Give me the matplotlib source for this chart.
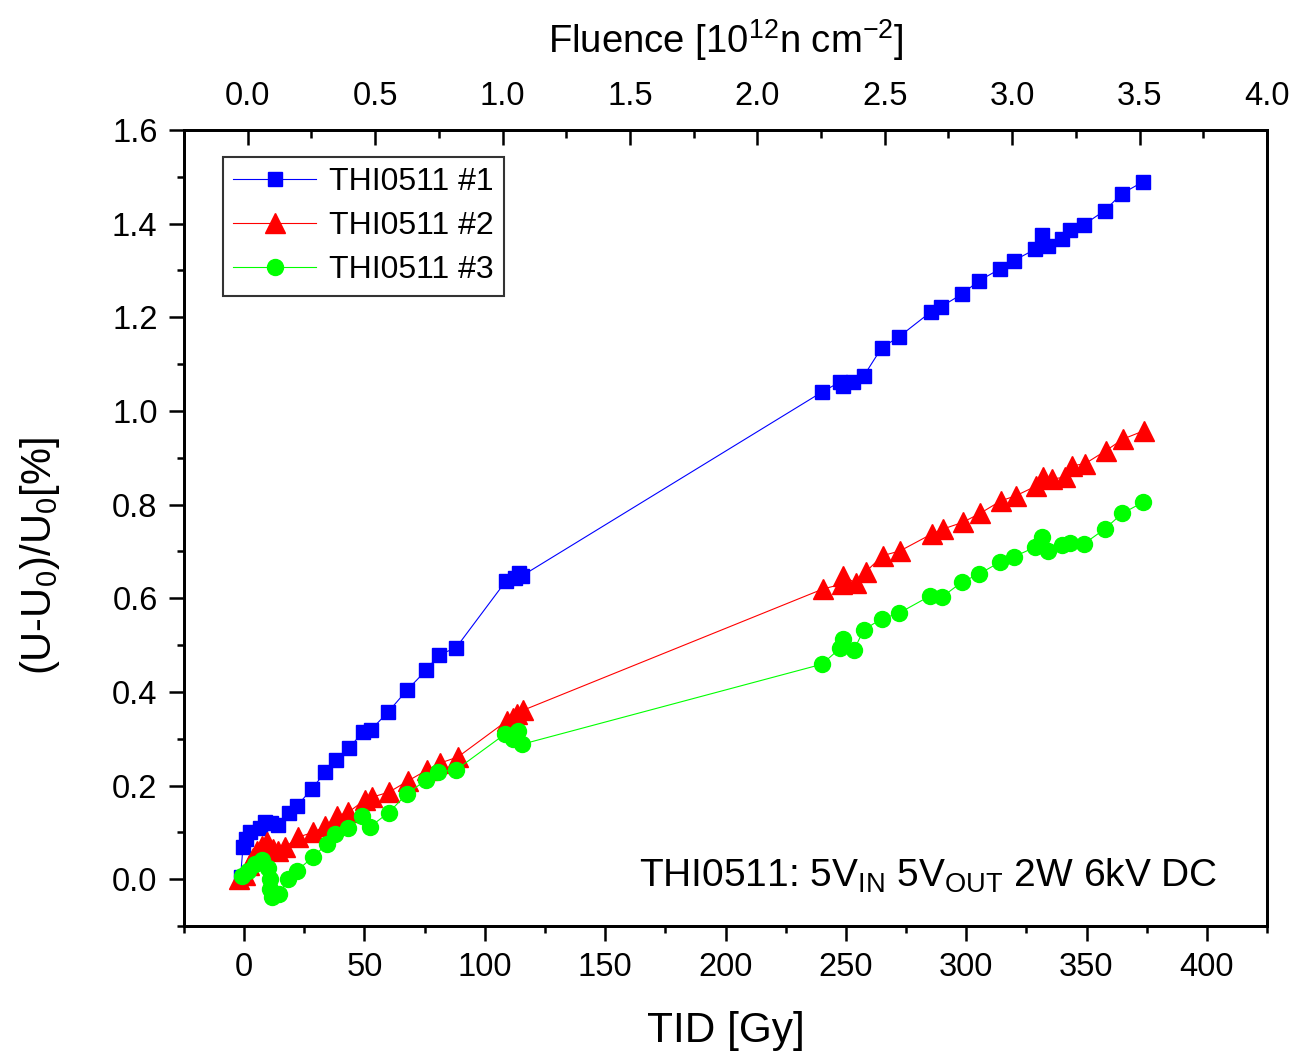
import numpy as np
import matplotlib
matplotlib.use('Agg')
import matplotlib.pyplot as plt
from matplotlib.ticker import MultipleLocator

plt.rcParams['font.family'] = ['Liberation Sans', 'DejaVu Sans']
plt.rcParams['mathtext.fontset'] = 'custom'
plt.rcParams['mathtext.rm'] = 'Liberation Sans'
plt.rcParams['mathtext.it'] = 'Liberation Sans:italic'
plt.rcParams['mathtext.bf'] = 'Liberation Sans:bold'
plt.rcParams['mathtext.default'] = 'regular'

# THI0511 #1
tid1 = [-1.5, -0.5, 0.7, 2.5, 6.5, 8.5, 11, 14, 18.5, 22, 28, 33.7, 38, 43.6, 49.2, 52.5,
        59.8, 67.7, 75.6, 80.8, 88, 108.8, 112.5, 114, 115.5,
        240, 247.6, 248.8, 253, 257.5, 264.9, 272, 285.2, 289.4, 298.1, 305.3, 314,
        319.8, 328.6, 331.3, 334, 340, 343, 349, 357.6, 364.7, 373.4]
du1 = [0.005, 0.068, 0.085, 0.1, 0.11, 0.122, 0.12, 0.115, 0.142, 0.157, 0.192, 0.229, 0.254,
       0.28, 0.314, 0.318, 0.357, 0.404, 0.446, 0.479, 0.494, 0.637, 0.643, 0.653, 0.648,
       1.04, 1.062, 1.054, 1.062, 1.075, 1.135, 1.158, 1.211, 1.222, 1.249, 1.278, 1.303,
       1.321, 1.345, 1.375, 1.353, 1.368, 1.387, 1.398, 1.428, 1.464, 1.489]

# THI0511 #2
tid2 = [-2, 0.5, 2, 3.5, 5.3, 7.5, 9.4, 12, 14, 17, 22.4, 28.7, 33.6, 38.5, 43.3, 50.3, 53,
        60.2, 68.1, 75.9, 81.4, 88.8, 109.1, 111.5, 113.3, 116,
        240.6, 248.3, 248.9, 254.2, 258.4, 265.3, 272.5, 285.6, 290.5, 298.5, 305.7, 314.4,
        320.7, 329.2, 332, 335.5, 341, 343.8, 349.3, 358, 365.2, 374]
du2 = [0.0, 0.01, 0.03, 0.045, 0.06, 0.07, 0.079, 0.065, 0.06, 0.068, 0.09, 0.1, 0.113, 0.135,
       0.143, 0.17, 0.175, 0.186, 0.21, 0.233, 0.248, 0.261, 0.338, 0.345, 0.352, 0.361,
       0.62, 0.63, 0.648, 0.632, 0.657, 0.691, 0.701, 0.737, 0.748, 0.762, 0.781, 0.808,
       0.819, 0.84, 0.858, 0.855, 0.858, 0.883, 0.887, 0.915, 0.94, 0.958]

# THI0511 #3
tid3 = [-1, 1.8, 4.6, 7.6, 9.8, 10.8, 10.8, 11.5, 14.3, 18.4, 21.9, 28.5, 34.3, 37.8, 43.3,
        48.9, 52.3, 60, 67.8, 75.6, 80.7, 87.9, 108.4, 111.9, 113.9, 115.3,
        240, 247.6, 248.7, 253.4, 257.5, 264.9, 272, 285, 289.8, 298.1, 305.4, 314, 320,
        328.6, 331.6, 334.1, 340, 343, 348.9, 357.6, 364.8, 373.5]
du3 = [0.006, 0.018, 0.032, 0.041, 0.025, 0.0, -0.021, -0.039, -0.032, 0.0, 0.018, 0.047,
       0.075, 0.096, 0.11, 0.135, 0.112, 0.142, 0.183, 0.212, 0.23, 0.233, 0.31, 0.299, 0.317,
       0.288, 0.459, 0.493, 0.513, 0.49, 0.533, 0.556, 0.568, 0.605, 0.602, 0.634, 0.652,
       0.677, 0.689, 0.709, 0.73, 0.7, 0.714, 0.718, 0.716, 0.748, 0.781, 0.805]

fig = plt.figure(figsize=(12.93, 10.54), dpi=100)
ax = fig.add_axes([0.1423, 0.1214, 0.8376, 0.7553])

ax.plot(tid1, du1, color='#0000ff', lw=0.8, marker='s', ms=10, label='THI0511 #1')
ax.plot(tid2, du2, color='#ff0000', lw=0.8, marker='^', ms=15, label='THI0511 #2')
ax.plot(tid3, du3, color='#00ff00', lw=0.8, marker='o', ms=11.5, label='THI0511 #3')

ax.set_xlim(-25, 425)
ax.set_ylim(-0.1, 1.6)
ax.xaxis.set_major_locator(MultipleLocator(50))
ax.xaxis.set_minor_locator(MultipleLocator(25))
ax.yaxis.set_major_locator(MultipleLocator(0.2))
ax.yaxis.set_minor_locator(MultipleLocator(0.1))
ax.yaxis.set_major_formatter(plt.FormatStrFormatter('%.1f'))
ax.tick_params(which='major', direction='out', length=11, width=1.8, labelsize=23.5, pad=8)
ax.tick_params(which='minor', direction='out', length=5, width=1.8)
for s in ax.spines.values():
    s.set_linewidth(2)

ax.set_xlabel('TID [Gy]', fontsize=30.5, labelpad=20)
ax.set_ylabel('(U-U$_0$)/U$_0$[%]', fontsize=30)
ax.yaxis.set_label_coords(-0.113, 0.465)

ax2 = ax.twiny()
ax2.set_xlim(-0.25, 4.0)
ax2.xaxis.set_major_locator(MultipleLocator(0.5))
ax2.xaxis.set_minor_locator(MultipleLocator(0.25))
ax2.xaxis.set_major_formatter(plt.FormatStrFormatter('%.1f'))
ax2.tick_params(which='major', direction='in', length=11, width=1.8, labelsize=23.5, pad=13)
ax2.tick_params(which='minor', direction='in', length=6, width=1.8)
ax2.set_xlabel('Fluence [10$^{12}$n cm$^{-2}$]', fontsize=27.5, labelpad=20)
for s in ax2.spines.values():
    s.set_linewidth(2)

leg = ax.legend(loc='upper left', bbox_to_anchor=(0.036, 0.966), borderaxespad=0,
                fontsize=23, frameon=True, fancybox=False, edgecolor='black',
                handlelength=2.6, labelspacing=0.44, borderpad=0.32, handletextpad=0.4)
leg.get_frame().set_linewidth(1.5)

ax.text(0.954, 0.049, 'THI0511: 5V$_{IN}$ 5V$_{OUT}$ 2W 6kV DC', transform=ax.transAxes,
        ha='right', va='baseline', fontsize=28)

fig.savefig('out.png', dpi=100)
